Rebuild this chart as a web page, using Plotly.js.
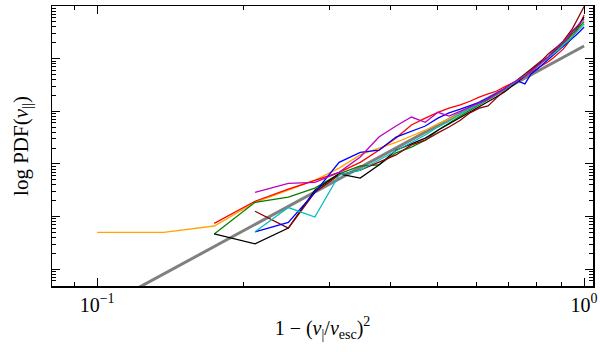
<!DOCTYPE html>
<html>
<head>
<meta charset="utf-8">
<script src="https://cdn.plot.ly/plotly-3.0.1.min.js"></script>
<style>
  html, body { margin: 0; padding: 0; background: #fff; }
  #chart { width: 600px; height: 352px; }
</style>
</head>
<body>
<div id="chart"></div>
<script>
// bin centres on the x axis, 1 - (v/vesc)^2
var binX = [0.100, 0.137, 0.174, 0.211, 0.247, 0.280, 0.314, 0.347, 0.379, 0.411,
            0.442, 0.472, 0.501, 0.528, 0.557, 0.583, 0.609, 0.635, 0.660, 0.685,
            0.708, 0.732, 0.756, 0.778, 0.801, 0.824, 0.844, 0.864, 0.884, 0.906,
            0.927, 0.945, 0.963, 0.981, 1.000];

// log10 PDF per curve, first value sits at binX[start]
var orangeLog = [-4.30,-4.30,-4.18,-3.73,-3.50,-3.31,-3.08,-2.83,-2.70,-2.59,-2.47,-2.36,-2.24,-2.15,-2.05,-1.96,-1.86,-1.77,-1.69,-1.60,-1.50,-1.41,-1.31,-1.24,-1.14,-1.06,-0.99,-0.89,-0.82,-0.72,-0.65,-0.55,-0.48,-0.40,-0.34];
var redLog = [-4.13,-3.71,-3.48,-3.31,-3.16,-2.97,-2.74,-2.51,-2.26,-2.13,-2.02,-1.94,-1.88,-1.81,-1.73,-1.67,-1.62,-1.54,-1.48,-1.41,-1.33,-1.26,-1.20,-1.12,-1.06,-0.99,-0.91,-0.82,-0.70,-0.59,-0.48,-0.34,-0.17];
var greenLog = [-4.33,-3.73,-3.63,-3.46,-3.19,-3.04,-3.02,-2.79,-2.68,-2.55,-2.36,-2.22,-2.09,-1.98,-1.88,-1.79,-1.69,-1.60,-1.50,-1.41,-1.31,-1.22,-1.14,-1.05,-0.97,-0.89,-0.80,-0.72,-0.63,-0.53,-0.46,-0.38,-0.30];
var blackLog = [-4.33,-4.52,-4.22,-3.50,-3.19,-3.27,-3.02,-2.74,-2.62,-2.51,-2.36,-2.24,-2.13,-2.02,-1.92,-1.83,-1.73,-1.64,-1.54,-1.43,-1.33,-1.24,-1.14,-1.05,-0.97,-0.87,-0.78,-0.68,-0.59,-0.49,-0.42,-0.32,-0.21];
var maroonLog = [-3.90,-4.22,-3.54,-3.21,-3.12,-2.97,-2.83,-2.64,-2.55,-2.41,-2.30,-2.17,-2.03,-1.94,-1.90,-1.75,-1.62,-1.50,-1.39,-1.29,-1.20,-1.10,-1.01,-0.91,-0.84,-0.76,-0.67,-0.55,-0.44,-0.30,-0.15,-0.01];
var blueLog = [-4.29,-4.11,-3.54,-2.97,-2.78,-2.74,-2.49,-2.38,-2.28,-2.13,-2.03,-1.96,-1.90,-1.83,-1.75,-1.67,-1.58,-1.50,-1.43,-1.48,-1.29,-1.20,-1.10,-1.03,-0.93,-0.86,-0.78,-0.70,-0.63,-0.55,-0.48,-0.40];
var cyanLog = [-4.29,-3.83,-4.01,-3.21,-3.12,-2.93,-2.74,-2.59,-2.45,-2.30,-2.19,-2.05,-1.96,-1.86,-1.77,-1.69,-1.60,-1.50,-1.41,-1.33,-1.25,-1.16,-1.06,-0.99,-0.91,-0.84,-0.74,-0.67,-0.59,-0.51,-0.42,-0.34];
var magentaLog = [-3.54,-3.37,-3.35,-3.16,-2.87,-2.49,-2.28,-2.11,-2.21,-2.02,-2.09,-2.00,-1.92,-1.84,-1.77,-1.67,-1.58,-1.48,-1.41,-1.33,-1.24,-1.14,-1.05,-0.97,-0.87,-0.78,-0.68,-0.59,-0.48,-0.40,-0.32,-0.25];

// straight grey reference line, end points
var fitX = [0.12, 1.0];
var fitLog = [-5.38, -0.76];

var curves = [
  {y: orangeLog, start: 0, color: '#ffa500'},
  {y: redLog, start: 2, color: '#ff0000'},
  {y: greenLog, start: 2, color: '#008000'},
  {y: blackLog, start: 2, color: '#000000'},
  {y: maroonLog, start: 3, color: '#8b0000'},
  {y: blueLog, start: 3, color: '#0000ff'},
  {y: cyanLog, start: 3, color: '#00bfbf'},
  {y: magentaLog, start: 3, color: '#bf00bf'}
];

function pow10(v) { return Math.pow(10, v); }

var data = [{
  x: fitX, y: fitLog.map(pow10), mode: 'lines',
  line: {color: '#808080', width: 3}, hoverinfo: 'skip'
}];
curves.forEach(function(c) {
  data.push({
    x: binX.slice(c.start, c.start + c.y.length),
    y: c.y.map(pow10),
    mode: 'lines',
    line: {color: c.color, width: 1.3}
  });
});

var xMinor = [0.09, 0.2, 0.3, 0.4, 0.5, 0.6, 0.7, 0.8, 0.9];
var yMajor = [];
var yMinor = [];
for (var e = -6; e <= 0; e++) {
  yMajor.push(Math.pow(10, e));
  for (var k = 2; k <= 9; k++) yMinor.push(k * Math.pow(10, e));
}

var serif = 'Liberation Serif, DejaVu Serif, serif';
var layout = {
  width: 600, height: 352,
  margin: {l: 52, r: 7, t: 6, b: 66},
  paper_bgcolor: '#fff', plot_bgcolor: '#fff',
  showlegend: false,
  font: {family: serif, color: '#000'},
  xaxis: {
    type: 'log', range: [-1.0926, 0.0183],
    tickmode: 'array', tickvals: [0.1, 1], ticktext: ['10<sup>\u22121</sup>', '10<sup>0</sup>'],
    ticks: 'inside', ticklen: 8, tickwidth: 1, tickcolor: '#000',
    minor: {tickmode: 'array', tickvals: xMinor, ticks: 'inside', ticklen: 4, tickwidth: 1, tickcolor: '#000'},
    mirror: 'allticks', showline: true, linecolor: '#000', linewidth: 1.5,
    showgrid: false, zeroline: false,
    tickfont: {size: 20, family: serif},
    title: {text: '1 \u2212 (<i>v</i><sub>|</sub>/<i>v</i><sub>esc</sub>)<sup>2</sup>', font: {size: 20, family: serif}, standoff: 6}
  },
  yaxis: {
    type: 'log', range: [-5.32, 0],
    tickmode: 'array', tickvals: yMajor, showticklabels: false,
    ticks: 'inside', ticklen: 8, tickwidth: 1, tickcolor: '#000',
    minor: {tickmode: 'array', tickvals: yMinor, ticks: 'inside', ticklen: 4, tickwidth: 1, tickcolor: '#000'},
    mirror: 'allticks', showline: true, linecolor: '#000', linewidth: 1.5,
    showgrid: false, zeroline: false,
    title: {text: 'log PDF(<i>v</i><sub>||</sub>)', font: {size: 21, family: serif}, standoff: 16}
  }
};

Plotly.newPlot('chart', data, layout, {displayModeBar: false, staticPlot: true});
</script>
</body>
</html>
